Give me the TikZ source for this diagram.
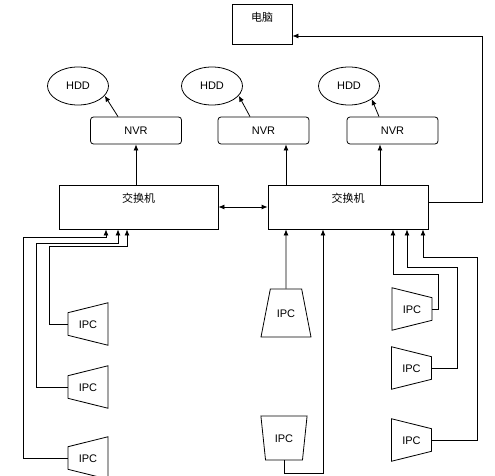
\documentclass[tikz,border=0pt]{standalone}
\usepackage{fontspec}
\setmainfont{Liberation Sans}
\newfontfamily\cjk{Noto Sans CJK SC}
\usetikzlibrary{arrows.meta,shapes.geometric}

\begin{document}
\begin{tikzpicture}[x=1pt,y=-1pt,line width=0.8pt,font=\fontsize{11}{13}\selectfont,
  >={Latex[length=6pt,width=5pt]},
  sw/.style={draw,minimum width=159pt,minimum height=44pt,text height=8pt,text depth=18pt,font=\cjk\fontsize{11}{13}\selectfont},
  pcbox/.style={draw,minimum width=60pt,minimum height=40pt,text height=8pt,text depth=12pt,font=\cjk\fontsize{11}{13}\selectfont},
  nvr/.style={draw,rounded corners=3pt,minimum width=91pt,minimum height=27pt},
  hdd/.style={draw,ellipse,minimum width=61pt,minimum height=38pt,inner sep=0pt},
  ipc/.style={draw,trapezium,minimum size=0pt,text height=8pt,text depth=0pt},
  ipcside/.style={ipc,shape border rotate=#1,trapezium angle=76,inner xsep=10.8pt,inner ysep=7.3pt},
  arr/.style={->}]
\useasboundingbox (0,0) rectangle (495,476);
% top row
\node[pcbox] (pc) at (262,24) {电脑};
\node[hdd] (hdd1) at (78,86) {HDD};
\node[hdd] (hdd2) at (212,86) {HDD};
\node[hdd] (hdd3) at (349,86) {HDD};
\node[nvr] (nvr1) at (136,130.5) {NVR};
\node[nvr] (nvr2) at (263.5,130.5) {NVR};
\node[nvr] (nvr3) at (392.5,130.5) {NVR};
% switches
\node[sw] (sw1) at (138.5,207) {交换机};
\node[sw,minimum width=160pt] (sw2) at (348,207) {交换机};
% cameras
\node[ipcside=90] (ipcL1) at (88,324) {IPC};
\node[ipcside=90] (ipcL2) at (88,387) {IPC};
\node[ipcside=90] (ipcL3) at (88,458) {IPC};
\node[ipc,trapezium angle=79,inner xsep=6.5pt,inner ysep=20pt] (ipcM1) at (286,313) {IPC};
\node[ipc,shape border rotate=180,trapezium angle=84,inner xsep=9.3pt,inner ysep=18pt] (ipcM2) at (284,438) {IPC};
\node[ipcside=270] (ipcR1) at (412,309) {IPC};
\node[ipcside=270] (ipcR2) at (411.5,368) {IPC};
\node[ipcside=270] (ipcR3) at (411.5,440) {IPC};
% storage
\draw[arr] ([xshift=-18pt]nvr1.north) -- (hdd1.-20);
\draw[arr] ([xshift=-13.5pt]nvr2.north) -- (hdd2.-20);
\draw[arr] ([xshift=-13.5pt]nvr3.north) -- (hdd3.-30);
\draw[arr] (sw1.north -| nvr1) -- (nvr1);
\draw[arr] (sw2.north -| 286,0) -- (nvr2.south -| 286,0);
\draw[arr] (sw2.north -| 380,0) -- (nvr3.south -| 380,0);
% switch links
\draw[<->] (sw1.east) -- (sw2.west);
\draw[arr] ([yshift=5pt]sw2.east) -- ++(54,0) |- ([yshift=-12pt]pc.east);
% camera links
\draw[arr] (ipcL1.west) -| (49,246) -| (sw1.south -| 127,0);
\draw[arr] (ipcL2.west) -| (36,243) -| (sw1.south -| 118,0);
\draw[arr] (ipcL3.west) -| (23,237) -| (sw1.south -| 106,0);
\draw[arr] (ipcM1.north) -- (sw2.south -| ipcM1);
\draw[arr] (ipcM2.south) |- (323,473) -- (sw2.south -| 323,0);
\draw[arr] (ipcR1.east) -| (438,274) -| (sw2.south -| 393,0);
\draw[arr] (ipcR2.east) -| (457,267) -| (sw2.south -| 407,0);
\draw[arr] (ipcR3.east) -| (477,257) -| (sw2.south -| 423,0);
\end{tikzpicture}
\end{document}
